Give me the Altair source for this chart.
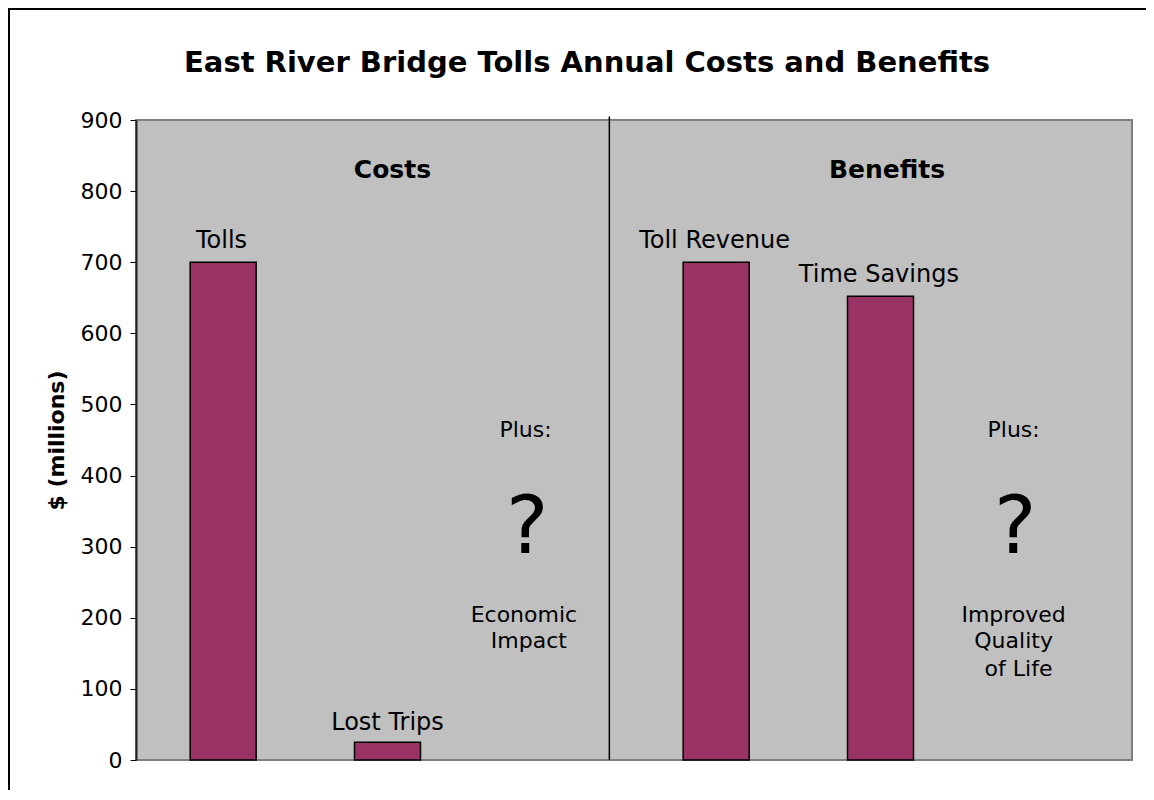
import altair as alt
import pandas as pd

FONT = "DejaVu Sans"

# Chart title
title_text = ["East River Bridge Tolls Annual Costs and Benefits"]

# Bars
categories = ["Tolls", "Lost Trips", "Toll Revenue", "Time Savings"]
values = [700, 25, 700, 652]
bar_pos = [0.5, 1.5, 3.5, 4.5]

# Bar labels (position on the linear x scale, baseline value)
label_text = ["Tolls", "Lost Trips", "Toll Revenue", "Time Savings"]
label_x = [0.49, 1.5, 3.49, 4.49]
label_y = [720, 42, 720, 672]

# Section headers
header_text = ["Costs", "Benefits"]
header_x = [1.53, 4.54]
header_y = [818, 818]

# "Plus:" notes
note_text = ["Plus:", "Economic", "Impact", "Plus:", "Improved", "Quality", "of Life"]
note_x = [2.34, 2.33, 2.36, 5.31, 5.31, 5.31, 5.34]
note_y = [454, 194, 157, 454, 194, 157, 118]

# Question marks
q_text = ["?", "?"]
q_x = [2.35, 5.32]
q_y = [291, 291]

# Divider between costs and benefits
divider_x = [2.85]
divider_y = [0]
divider_y2 = [905]

bars_df = pd.DataFrame({"category": categories, "value": values, "pos": bar_pos})
labels_df = pd.DataFrame({"text": label_text, "x": label_x, "y": label_y})
headers_df = pd.DataFrame({"text": header_text, "x": header_x, "y": header_y})
notes_df = pd.DataFrame({"text": note_text, "x": note_x, "y": note_y})
q_df = pd.DataFrame({"text": q_text, "x": q_x, "y": q_y})
div_df = pd.DataFrame({"x": divider_x, "y": divider_y, "y2": divider_y2})
title_df = pd.DataFrame({"text": title_text})

xscale = alt.Scale(domain=[0, 6], nice=False, zero=False)
yscale = alt.Scale(domain=[0, 900], nice=False)

bars = alt.Chart(bars_df).mark_bar(
    width=66, color="#993366", stroke="black", strokeWidth=1.5
).encode(
    x=alt.X("pos:Q", scale=xscale, axis=None),
    y=alt.Y(
        "value:Q",
        scale=yscale,
        title="$ (millions)",
        axis=alt.Axis(
            values=list(range(0, 901, 100)),
            grid=False,
            domainColor="#222222",
            domainWidth=2,
            tickColor="black",
            tickSize=6,
            labelPadding=8,
            labelFontSize=22,
            labelFont=FONT,
            labelColor="black",
            titleFont=FONT,
            titleFontSize=22,
            titleFontWeight="bold",
            titleColor="black",
            titlePadding=12,
        ),
    ),
    tooltip=["category", "value"],
)

def text_layer(df, size, weight="normal"):
    return alt.Chart(df).mark_text(
        font=FONT, fontSize=size, fontWeight=weight, color="black",
        align="center", baseline="alphabetic"
    ).encode(
        x=alt.X("x:Q", scale=xscale),
        y=alt.Y("y:Q", scale=yscale),
        text="text:N",
    )

labels = text_layer(labels_df, 24)
headers = text_layer(headers_df, 25, "bold")
notes = text_layer(notes_df, 22)
qmarks = text_layer(q_df, 80)

title = alt.Chart(title_df).mark_text(
    font=FONT, fontSize=29, fontWeight="bold", color="black",
    align="center", baseline="alphabetic"
).encode(x=alt.value(451), y=alt.value(-48), text="text:N")

divider = alt.Chart(div_df).mark_rule(color="black", strokeWidth=1.5).encode(
    x=alt.X("x:Q", scale=xscale),
    y=alt.Y("y:Q", scale=yscale),
    y2="y2:Q",
)

frame = alt.Chart(pd.DataFrame({"a": [0]})).mark_rect(
    fill=None, stroke="black", strokeWidth=2, clip=False
).encode(
    x=alt.value(-127), x2=alt.value(1100), y=alt.value(-111), y2=alt.value(800)
)

chart = alt.layer(frame, bars, divider, labels, headers, notes, qmarks, title).properties(
    width=996,
    height=640,
    padding={"left": 128, "top": 112, "right": 14, "bottom": 30},
    autosize=alt.AutoSizeParams(type="none"),
    background="white",
).configure_view(
    fill="#C0C0C0", stroke="#808080", strokeWidth=2
)

chart.save("out.html", embed_options={"renderer": "svg", "actions": False})
